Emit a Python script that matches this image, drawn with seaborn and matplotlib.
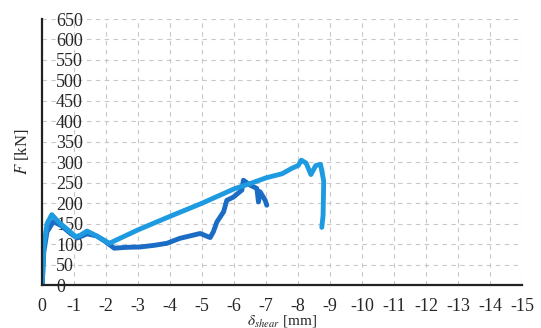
import matplotlib

matplotlib.use("Agg")
import matplotlib.pyplot as plt
import pandas as pd
import seaborn as sns

# displacement [mm] and force [kN]
light_x = [0.0, -0.05, -0.15, -0.3, -0.5, -0.8, -1.05, -1.2, -1.4, -1.7, -2.1, -3.0, -4.0,
           -5.0, -6.0, -6.5, -7.0, -7.5, -7.8, -8.0, -8.1, -8.25, -8.4, -8.55, -8.7, -8.8,
           -8.8, -8.78, -8.74]
light_f = [0, 95, 150, 172, 155, 135, 118, 122, 132, 120, 102, 135, 168,
           200, 235, 248, 262, 272, 285, 292, 305, 298, 270, 292, 295, 288,
           220, 170, 141]

dark_x = [0.0, -0.05, -0.15, -0.35, -0.6, -0.9, -1.1, -1.4, -1.7, -2.0, -2.25, -2.6, -3.06,
          -3.5, -3.9, -4.3, -4.94, -5.25, -5.35, -5.46, -5.67, -5.77, -5.98, -6.24, -6.29,
          -6.5, -6.71, -6.76, -6.81, -6.97, -7.02]
dark_f = [0, 80, 130, 155, 145, 125, 115, 125, 120, 105, 90, 92, 93,
          97, 102, 114, 126, 116, 130, 154, 179, 207, 215, 232, 256,
          244, 236, 203, 228, 207, 195]

x_ticks = list(range(0, -16, -1))
y_ticks = list(range(0, 651, 50))

light = pd.DataFrame({"d": light_x, "F": light_f})
dark = pd.DataFrame({"d": dark_x, "F": dark_f})

sns.set_style("white")
plt.rcParams["font.family"] = ["Liberation Serif", "DejaVu Serif"]
plt.rcParams["mathtext.fontset"] = "stix"

fig = plt.figure(figsize=(5.41, 3.28), dpi=100)
ax = fig.add_axes([0.078, 0.131, 0.887, 0.811])

sns.lineplot(data=dark, x="d", y="F", sort=False, color="#1a6cc4", linewidth=3.5, ax=ax)
sns.lineplot(data=light, x="d", y="F", sort=False, color="#1e9be0", linewidth=3.5, ax=ax)

ax.set_xlim(0, -15)
ax.set_ylim(0, 650)
ax.set_xticks(x_ticks)
ax.set_yticks(y_ticks)
ax.set_xticklabels([str(t) for t in x_ticks])
ax.grid(True, linestyle=(0, (4, 4)), color="#c8c8c8", linewidth=0.8)
for s in ["top", "right"]:
    ax.spines[s].set_visible(False)
for s in ["left", "bottom"]:
    ax.spines[s].set_color("#222222")
    ax.spines[s].set_linewidth(1.6)
ax.tick_params(direction="inout", length=12, width=1.5, color="#222222", labelsize=13)
ax.tick_params(axis="x", pad=3)
# y tick labels sit to the right of the axis line
ax.tick_params(axis="y", pad=-16)
for lab in ax.get_yticklabels():
    lab.set_horizontalalignment("left")
ax.set_xlabel(r"$\delta_{shear}$ [mm]", fontsize=11)
ax.xaxis.set_label_coords(0.5, -0.105)
ax.xaxis.label.set_verticalalignment("top")
ax.set_ylabel(r"$F$ [kN]", fontsize=12, labelpad=8)

fig.savefig("out.png", dpi=100)
